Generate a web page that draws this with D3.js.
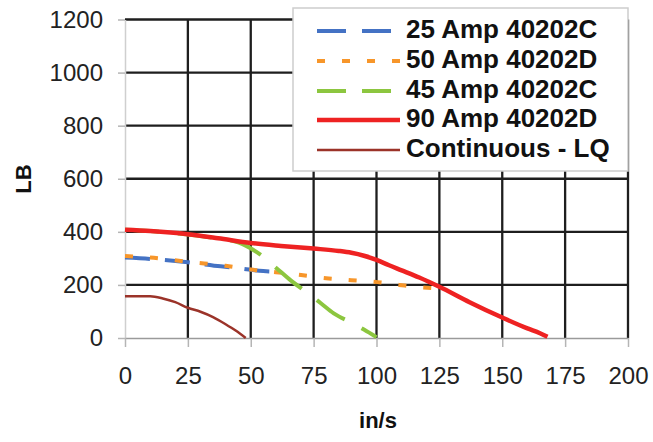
<!DOCTYPE html>
<html>
<head>
<meta charset="utf-8">
<script src="https://cdn.jsdelivr.net/npm/d3@7/dist/d3.min.js"></script>
<style>
  html, body { margin: 0; padding: 0; background: #fff; }
  svg { display: block; font-family: "Liberation Sans", Arial, sans-serif; }
</style>
</head>
<body>
<svg id="chart" width="653" height="442"></svg>
<script>
// ---- data ----
const xTicks = [0, 25, 50, 75, 100, 125, 150, 175, 200];
const yTicks = [0, 200, 400, 600, 800, 1000, 1200];

const seriesNames = ["25 Amp 40202C", "50 Amp 40202D", "45 Amp 40202C", "90 Amp 40202D", "Continuous - LQ"];

const amp25 = [[0,303],[10,298],[25,285],[38,270],[46,262],[55,252],[60,250]];
const amp50 = [[0,309],[10,303],[25,287],[33,280],[40,272],[50,258],[60,248],[70,237],[80,225],[90,218],[99,212],[109,200],[116,192],[122,188]];
const amp45 = [[0,408],[10,403],[25,390],[37,375],[45,360],[48,348],[54,313],[60,265],[66,216],[72,174],[78,130],[83,93],[90,58],[95,32],[100,3]];
const amp90 = [[0,408],[10,403],[25,391],[37,376],[50,358],[62,347],[75,337],[85,328],[90,321],[95,310],[100,294],[105,274],[110,255],[117,228],[125,193],[137,135],[150,77],[160,36],[165,18],[168,5]];
const contLQ = [[0,157],[10,157],[15,149],[20,135],[25,114],[30,99],[35,79],[40,52],[44,28],[48,0]];

const seriesData = [amp25, amp50, amp45, amp90, contLQ];
const seriesColors = ["#4472c4", "#f7962a", "#8cc63f", "#ee2222", "#9b3329"];
const seriesWidths = [4, 4, 4, 4.5, 2.5];
const seriesDash = ["25,15", "8,17", "34,19", null, null];
const legendDash = ["29,16", "8,17", "29,16", null, null];

// ---- layout ----
const svg = d3.select("#chart");
const x = d3.scaleLinear().domain([0, 200]).range([125, 628]);
const y = d3.scaleLinear().domain([0, 1200]).range([338, 19.5]);

// gridlines
svg.append("g").selectAll("line.hg")
  .data(yTicks.filter(d => d > 0))
  .join("line")
  .attr("x1", x(0)).attr("x2", x(200))
  .attr("y1", d => y(d)).attr("y2", d => y(d))
  .attr("stroke", "#1e1e1e").attr("stroke-width", 2.3);

svg.append("g").selectAll("line.vg")
  .data(xTicks.filter(d => d > 0))
  .join("line")
  .attr("x1", d => x(d)).attr("x2", d => x(d))
  .attr("y1", y(0)).attr("y2", y(1200))
  .attr("stroke", "#1e1e1e").attr("stroke-width", 2.3);

// axes
const yAxis = svg.append("g")
  .attr("transform", `translate(${x(0)},0)`)
  .call(d3.axisLeft(y).tickValues(yTicks).tickFormat(d3.format("d")).tickSize(7).tickPadding(15).tickSizeOuter(0));
const xAxis = svg.append("g")
  .attr("transform", `translate(0,${y(0)})`)
  .call(d3.axisBottom(x).tickValues(xTicks).tickFormat(d3.format("d")).tickSize(9).tickPadding(20).tickSizeOuter(0));

yAxis.select(".domain").attr("stroke", "#cfcfcf").attr("stroke-width", 1.5);
xAxis.select(".domain").attr("stroke", "#9a9a9a").attr("stroke-width", 1.5);
[yAxis, xAxis].forEach(a => {
  a.selectAll(".tick line").attr("stroke", "#b5b5b5").attr("stroke-width", 1.5);
  a.selectAll(".tick text")
    .attr("fill", "#222")
    .style("font-size", "24px")
    .style("font-family", "'Liberation Sans', Arial, sans-serif");
});

// series lines
const line = d3.line().x(d => x(d[0])).y(d => y(d[1])).curve(d3.curveMonotoneX);
seriesData.forEach((data, i) => {
  svg.append("path")
    .datum(data)
    .attr("d", line)
    .attr("fill", "none")
    .attr("stroke", seriesColors[i])
    .attr("stroke-width", seriesWidths[i])
    .attr("stroke-linejoin", "round")
    .attr("stroke-dasharray", seriesDash[i]);
});

// axis titles
svg.append("text")
  .attr("x", 378).attr("y", 428)
  .attr("text-anchor", "middle")
  .style("font-size", "22px").style("font-weight", "bold")
  .attr("fill", "#111")
  .text("in/s");

svg.append("text")
  .attr("transform", "translate(31,179) rotate(-90)")
  .attr("text-anchor", "middle")
  .style("font-size", "22px").style("font-weight", "bold")
  .attr("fill", "#111")
  .text("LB");

// legend
const lg = svg.append("g");
lg.append("rect")
  .attr("x", 293).attr("y", 8).attr("width", 335).attr("height", 163)
  .attr("fill", "#fff").attr("stroke", "#cdcdcd").attr("stroke-width", 1.5);

const rowY = [31, 61, 91, 120, 150];
seriesNames.forEach((name, i) => {
  lg.append("line")
    .attr("x1", 317).attr("x2", i === 0 || i === 2 ? 391 : 400)
    .attr("y1", rowY[i]).attr("y2", rowY[i])
    .attr("stroke", seriesColors[i])
    .attr("stroke-width", seriesWidths[i])
    .attr("stroke-dasharray", legendDash[i]);
  lg.append("text")
    .attr("x", 406).attr("y", rowY[i] + 7)
    .style("font-size", "26px").style("font-weight", "bold")
    .attr("fill", "#111")
    .text(name);
});
</script>
</body>
</html>
